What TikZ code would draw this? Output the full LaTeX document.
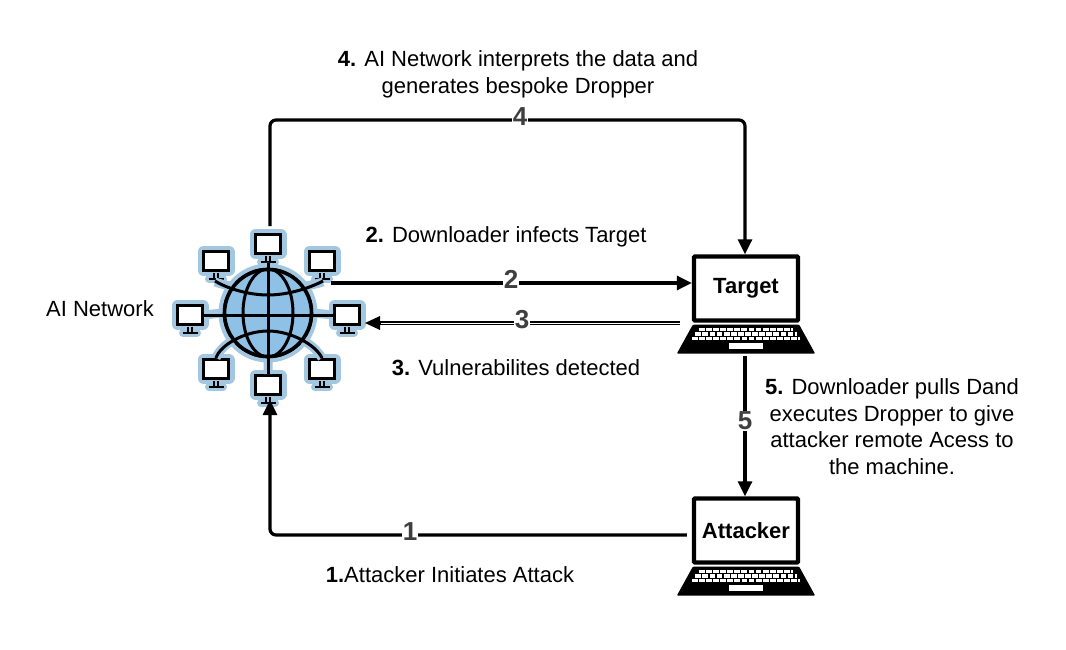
\documentclass[tikz,border=0pt]{standalone}
\usepackage{fontspec}
\setmainfont{Liberation Sans}
\usetikzlibrary{arrows.meta,calc}
\definecolor{globefill}{HTML}{8FC0E6}
\definecolor{halo}{HTML}{A3C7E0}
\definecolor{numc}{HTML}{3F3F3F}
\tikzset{
  every node/.style={font=\fontsize{22}{26.6}\selectfont},
  conn/.style={line width=3.2pt,draw=black,rounded corners=6pt,-{Triangle[length=15pt,width=14pt]}},
  num/.style={font=\fontsize{26}{26}\selectfont\bfseries,text=numc,fill=white,inner sep=0.5pt},
  caption/.style={align=center,text=black,inner sep=0pt},
  screen/.style={draw=black,line width=4.4pt,fill=white,rounded corners=1pt,minimum width=104pt,minimum height=64pt,inner sep=0pt,font=\fontsize{22}{22}\selectfont\bfseries},
  mon/.style={draw=black,line width=3.4pt,fill=white,minimum width=25pt,minimum height=18.5pt,inner sep=0pt,
    preaction={draw=halo,line width=12pt,line join=round}},
  spoke/.style={line width=3pt,draw=black},
  spokehalo/.style={line width=9pt,draw=halo},
}
% laptop base below a named screen node
\newcommand{\laptopbase}[1]{%
  \fill[black,rounded corners=1pt] ($(#1.south west)+(1,2)$) -- ($(#1.south east)+(-1,2)$) -- ($(#1.south east)+(15,31)$) -- ($(#1.south west)+(-15,31)$) -- cycle;
  \foreach \r in {0,1,2}{
    \draw[white,line width=3.3pt,dash pattern=on 5.8pt off 1.3pt] ($(#1.south west)+(7-\r*3.5,7+\r*4.4)$) -- ($(#1.south east)+(-7+\r*3.5,7+\r*4.4)$);
  }
  \fill[white] ($(#1.south)+(-17,20.5)$) rectangle ($(#1.south)+(17,26.5)$);
}
% monitor stand below a named monitor node
\newcommand{\monstand}[1]{%
  \draw[halo,line width=8pt] ($(#1.south)+(0,0)$) -- ($(#1.south)+(0,6)$);
  \draw[halo,line width=8pt,line cap=round] ($(#1.south)+(-7,7)$) -- ($(#1.south)+(7,7)$);
  \draw[black,line width=2pt] ($(#1.south)+(-2.3,1)$) -- ($(#1.south)+(-2.3,6)$) ($(#1.south)+(2.3,1)$) -- ($(#1.south)+(2.3,6)$);
  \draw[black,line width=2.6pt] ($(#1.south)+(-7.5,7)$) -- ($(#1.south)+(7.5,7)$);
}
\begin{document}
\begin{tikzpicture}[x=1pt,y=-1pt]
\useasboundingbox[fill=white] (0,0) rectangle (1066,650);

% globe
\node[circle,minimum size=87pt,inner sep=0pt,fill=globefill,draw=black,line width=3.6pt,preaction={draw=halo,line width=12pt}] (globe) at (268,313) {};
\node[mon] (m1) at (268,244) {};
\node[mon] (m2) at (216,261) {};
\node[mon] (m3) at (322,261) {};
\node[mon] (m4) at (190,315) {};
\node[mon] (m5) at (347,315) {};
\node[mon] (m6) at (216,369) {};
\node[mon] (m7) at (322,369) {};
\node[mon] (m8) at (268,385) {};

\foreach \m in {m1,m2,m3,m4,m5,m6,m7,m8}{\monstand{\m}}
\draw[spokehalo] (m4.east) -- (globe.west) (globe.east) -- (m5.west) (m8.north) -- (globe.south) ($(m1.south)+(0,8)$) -- (globe.north);
\draw[spokehalo] ($(m2.south)+(-1,10)$) .. controls (226,286) and (240,287) .. (246,291);
\draw[spokehalo] ($(m3.south)+(1,10)$) .. controls (310,286) and (296,287) .. (290,291);
\draw[spokehalo] (m6.north) .. controls (219,350) and (226,343) .. (240,337);
\draw[spokehalo] (m7.north) .. controls (317,350) and (310,343) .. (296,337);
\node[circle,minimum size=87pt,inner sep=0pt,fill=globefill,draw=black,line width=3.6pt] (globeb) at (globe.center) {};

\draw[spoke] (globe.center) ellipse [x radius=25pt,y radius=44pt];
\draw[spoke] ($(m1.south)+(0,8)$) -- (m8.north);
\draw[spoke] (m4.east) -- (m5.west);
\draw[spoke] ($(m2.south)+(-1,9)$) .. controls (226,288) and (248,295) .. (268,295) .. controls (288,295) and (310,288) .. ($(m3.south)+(1,9)$);
\draw[spoke] (m6.north) .. controls (220,345) and (245,331) .. (268,331) .. controls (291,331) and (316,345) .. (m7.north);

% laptops
\node[screen] (target) at (746,288.5) {Target};
\laptopbase{target}
\node[screen] (attacker) at (746,530.5) {Attacker};
\laptopbase{attacker}

% connectors
\coordinate (g2) at (331,283);
\coordinate (g3) at (365,323);
\coordinate (m8top) at (270,400);
\coordinate (m1up) at (270,226);
\draw[conn] (m1up) -- (270,120) -- (745,120) -- ([xshift=-1pt]target.north);
\draw[conn] (g2) -- ([yshift=5.5pt]target.west);
\draw[line width=3.6pt,draw=black] (680,323) -- (378,323);
\draw[line width=0.8pt,draw=white] (680,323) -- (378,323);
\draw[conn,line width=0pt,draw=black] (380,323) -- (g3);
\draw[conn,rounded corners=0pt] ([xshift=-1pt,yshift=-33pt]target.south) -- ([xshift=-1pt]attacker.north);
\draw[conn] ([xshift=-5pt,yshift=-4.5pt]attacker.west) -- (270,535) -- (m8top);

% numbers on connectors
\node[num] (n4) at (520,117) {4};
\node[num] (n2) at (511,279) {2};
\node[num] (n3) at (522,320) {3};
\node[num] (n5) at (745,421) {5};
\node[num] (n1) at (410,532) {1};

% captions
\node[caption] (c4) at (518,74.5) {\textbf{4.} AI Network interprets the data and\\generates bespoke Dropper};
\node[caption] (c2) at (506,237) {\textbf{2.} Downloader infects Target};
\node[caption] (c3) at (516,368) {\textbf{3.} Vulnerabilites detected};
\node[caption] (c5) at (892,426.5) {\textbf{5.} Downloader pulls Dand\\executes Dropper to give\\attacker remote Acess to\\the machine.};
\node[caption] (c1) at (450,575) {\textbf{1.}Attacker Initiates Attack};
\node[caption] (cn) at (100,309) {AI Network};
\end{tikzpicture}
\end{document}
